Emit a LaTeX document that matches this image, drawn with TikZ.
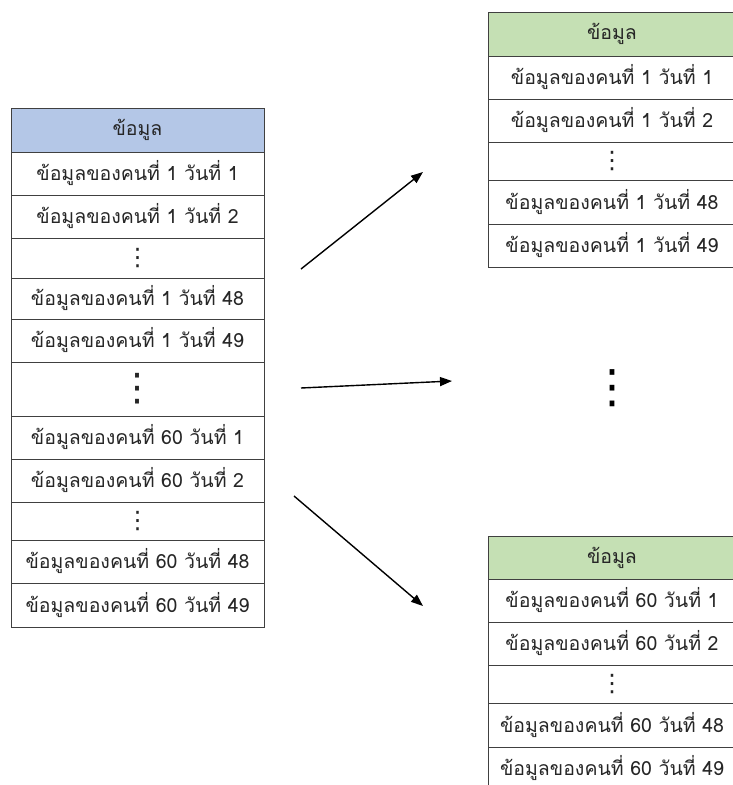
\documentclass[tikz,border=0pt]{standalone}
\usepackage{fontspec}
\newfontfamily\thaifont[Script=Thai]{Loma}
\newfontfamily\dotfont{DejaVu Sans}
\usetikzlibrary{arrows.meta}

\definecolor{headblue}{HTML}{B4C7E7}
\definecolor{headgreen}{HTML}{C5E0B4}
\definecolor{linegray}{HTML}{404040}

\tikzset{
    cell/.style={draw=linegray, line width=0.8pt, anchor=north west, inner sep=0pt, outer sep=0pt,
        text=black!85, font=\thaifont\fontsize{19.5}{24}\selectfont},
    flow/.style={-{Triangle[length=12pt,width=9pt]}, line width=1.4pt}
}

\newcommand{\smalldots}{{\dotfont\fontsize{24}{24}\selectfont ⋮}}
\newcommand{\bigdots}{{\dotfont\fontsize{38}{38}\selectfont ⋮}}

\begin{document}
\begin{tikzpicture}[x=1pt,y=-1pt]
        \useasboundingbox (0,0) rectangle (732,785);

        % Draw the input table
        \node[cell, fill=headblue, minimum width=253pt, minimum height=44pt] (lhead) at (11,108) {ข้อมูล};
        \foreach \name/\y/\h/\txt in {l1/152/43/ข้อมูลของคนที่ 1 วันที่ 1, l2/195/43/ข้อมูลของคนที่ 1 วันที่ 2,
            ld1/238/40/\smalldots, l48/278/41/ข้อมูลของคนที่ 1 วันที่ 48, l49/319/43/ข้อมูลของคนที่ 1 วันที่ 49,
            ldd/362/54/\bigdots, l601/416/43/ข้อมูลของคนที่ 60 วันที่ 1, l602/459/43/ข้อมูลของคนที่ 60 วันที่ 2,
            ld2/502/38/\smalldots, l6048/540/43/ข้อมูลของคนที่ 60 วันที่ 48, l6049/583/44/ข้อมูลของคนที่ 60 วันที่ 49} {
            \node[cell, minimum width=253pt, minimum height=\h pt] (\name) at (11,\y) {\txt};
        }

        % Draw the table of person 1
        \node[cell, fill=headgreen, minimum width=248pt, minimum height=44pt] (ahead) at (488,12) {ข้อมูล};
        \foreach \name/\y/\h/\txt in {a1/56/43/ข้อมูลของคนที่ 1 วันที่ 1, a2/99/43/ข้อมูลของคนที่ 1 วันที่ 2,
            ad/142/38/\smalldots, a48/180/44/ข้อมูลของคนที่ 1 วันที่ 48, a49/224/43/ข้อมูลของคนที่ 1 วันที่ 49} {
            \node[cell, minimum width=248pt, minimum height=\h pt] (\name) at (488,\y) {\txt};
        }

        % Draw the table of person 60
        \node[cell, fill=headgreen, minimum width=248pt, minimum height=43pt] (bhead) at (488,536) {ข้อมูล};
        \foreach \name/\y/\h/\txt in {b1/579/43/ข้อมูลของคนที่ 60 วันที่ 1, b2/622/43/ข้อมูลของคนที่ 60 วันที่ 2,
            bd/665/38/\smalldots, b48/703/44/ข้อมูลของคนที่ 60 วันที่ 48, b49/747/43/ข้อมูลของคนที่ 60 วันที่ 49} {
            \node[cell, minimum width=248pt, minimum height=\h pt] (\name) at (488,\y) {\txt};
        }

        % Tables in between
        \node[font=\dotfont\fontsize{46}{46}\selectfont] (middots) at (612,388) {⋮};

        % Draw the arrows
        \coordinate (s1) at (301,269); \coordinate (e1) at (423,172);
        \coordinate (s2) at (301,388); \coordinate (e2) at (452,381);
        \coordinate (s3) at (294,496); \coordinate (e3) at (423,606);
        \draw[flow] (s1) -- (e1);
        \draw[flow] (s2) -- (e2);
        \draw[flow] (s3) -- (e3);
    \end{tikzpicture}
\end{document}
